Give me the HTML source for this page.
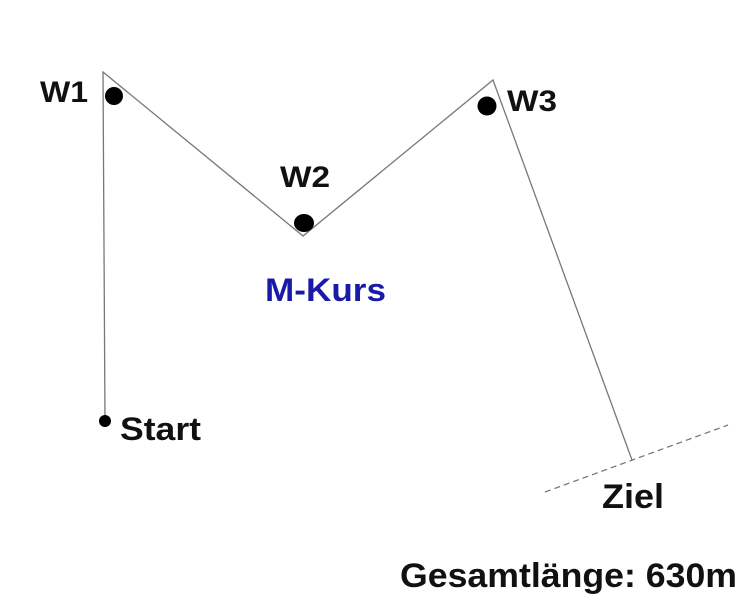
<!DOCTYPE html>
<html><head><style>body{margin:0;background:#fff}svg{display:block}</style></head>
<body>
<svg width="743" height="600" xmlns="http://www.w3.org/2000/svg" font-family="Liberation Sans, Arial, sans-serif" font-weight="bold">
<rect width="743" height="600" fill="#fff"/>
<polyline points="105,421 103,72 303,236 493,80 632,460" fill="none" stroke="#777" stroke-width="1.3"/>
<line x1="545" y1="492" x2="728" y2="425" stroke="#777" stroke-width="1.3" stroke-dasharray="6,4"/>
<circle cx="114" cy="96" r="9" fill="#000"/>
<ellipse cx="304" cy="223" rx="10" ry="9" fill="#000"/>
<circle cx="487" cy="106" r="9.5" fill="#000"/>
<circle cx="105" cy="421" r="6" fill="#000"/>
<text x="40" y="102" font-size="30" textLength="48" lengthAdjust="spacingAndGlyphs" fill="#111">W1</text>
<text x="280" y="187" font-size="30" textLength="50" lengthAdjust="spacingAndGlyphs" fill="#111">W2</text>
<text x="507" y="111" font-size="30" textLength="50" lengthAdjust="spacingAndGlyphs" fill="#111">W3</text>
<text x="265" y="301" font-size="32" textLength="121" lengthAdjust="spacingAndGlyphs" fill="#1a1aa8">M-Kurs</text>
<text x="120" y="440" font-size="32" textLength="81" lengthAdjust="spacingAndGlyphs" fill="#111">Start</text>
<text x="602" y="508" font-size="34" textLength="62" lengthAdjust="spacingAndGlyphs" fill="#111">Ziel</text>
<text x="400" y="587" font-size="34" textLength="337" lengthAdjust="spacingAndGlyphs" fill="#111">Gesamtlänge: 630m</text>
</svg>
</body></html>
